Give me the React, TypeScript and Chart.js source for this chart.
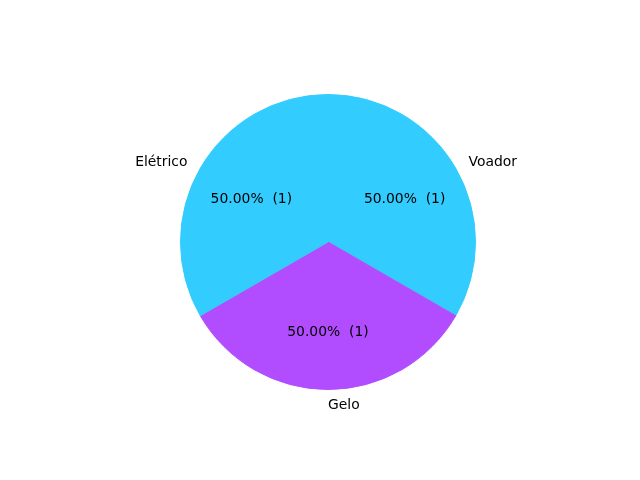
import React, { useEffect, useRef } from "react";
import { Chart, registerables } from "chart.js";

Chart.register(...registerables);

// Chart.js draws clockwise from top; order chosen so layout matches the reference
const categories = ["Voador", "Gelo", "Elétrico"];
const values = [1, 1, 1];
const pctLabels = ["50.00%  (1)", "50.00%  (1)", "50.00%  (1)"];
const colors = ["#33ccff", "#b24dff", "#33ccff"];

const labelPlugin = {
  id: "pieLabels",
  afterDraw(chart: any) {
    const ctx = chart.ctx;
    const meta = chart.getDatasetMeta(0);
    ctx.save();
    ctx.font = "13.9px 'DejaVu Sans'";
    ctx.fillStyle = "#000";
    ctx.textBaseline = "middle";
    meta.data.forEach((arc: any, i: number) => {
      const { x, y, outerRadius, startAngle, endAngle } = arc.getProps(
        ["x", "y", "outerRadius", "startAngle", "endAngle"],
        true
      );
      const mid = (startAngle + endAngle) / 2;
      const c = Math.cos(mid);
      const s = Math.sin(mid);
      const dy = 1.5;
      ctx.textAlign = c > -0.01 ? "left" : "right";
      ctx.fillText(categories[i], x + c * outerRadius * 1.1, y + s * outerRadius * 1.1 + dy);
      ctx.textAlign = "center";
      ctx.fillText(pctLabels[i], x + c * outerRadius * 0.6, y + s * outerRadius * 0.6 + dy);
    });
    ctx.restore();
  },
};

export default function App() {
  const ref = useRef<HTMLCanvasElement>(null);
  useEffect(() => {
    if (!ref.current) return;
    const chart = new Chart(ref.current, {
      type: "pie",
      data: {
        labels: categories,
        datasets: [
          {
            data: values,
            backgroundColor: colors,
            borderColor: colors,
            borderWidth: 1,
          },
        ],
      },
      options: {
        responsive: false,
        animation: false,
        layout: { padding: { top: 94, bottom: 90, left: 180, right: 164 } },
        plugins: {
          legend: { display: false },
          tooltip: { enabled: false },
        },
      },
      plugins: [labelPlugin],
    });
    return () => chart.destroy();
  }, []);
  return (
    <div style={{ position: "fixed", left: 0, top: 0, width: 640, height: 480, background: "#fff" }}>
      <canvas ref={ref} width={640} height={480} style={{ width: 640, height: 480 }} />
    </div>
  );
}
